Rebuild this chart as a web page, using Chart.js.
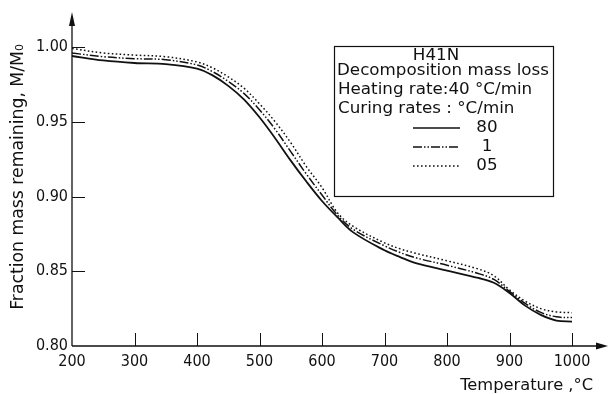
<!DOCTYPE html>
<html>
<head>
<meta charset="utf-8">
<script src="https://cdn.jsdelivr.net/npm/chart.js@4.4.1/dist/chart.umd.min.js"></script>
<style>
  html, body { margin: 0; padding: 0; background: #fff; }
  canvas { display: block; }
</style>
</head>
<body>
<canvas id="canvas" width="608" height="394"></canvas>
<script>
"use strict";

// Temperatures (°C) shared by all three curves
const temps = [200, 250, 300, 350, 400, 425, 450, 475, 500, 525, 550, 575, 600, 625, 650, 700, 725, 750, 800, 850, 875, 900, 925, 950, 975, 1000];

// Fraction mass remaining, per curing rate
const rate80 = [0.994, 0.991, 0.9893, 0.9885, 0.9855, 0.981, 0.974, 0.965, 0.953, 0.939, 0.924, 0.910, 0.897, 0.886, 0.876, 0.864, 0.8595, 0.8555, 0.8505, 0.8455, 0.8423, 0.8355, 0.827, 0.8208, 0.817, 0.8163];
const rate1 = [0.996, 0.9935, 0.9922, 0.9915, 0.988, 0.9835, 0.977, 0.969, 0.958, 0.945, 0.930, 0.915, 0.901, 0.8875, 0.878, 0.867, 0.8625, 0.859, 0.854, 0.8485, 0.8445, 0.8365, 0.8285, 0.8225, 0.8195, 0.819];
const rate05 = [0.999, 0.996, 0.9946, 0.9935, 0.990, 0.986, 0.980, 0.9725, 0.962, 0.950, 0.936, 0.920, 0.906, 0.889, 0.880, 0.869, 0.865, 0.862, 0.857, 0.8515, 0.847, 0.8375, 0.830, 0.825, 0.8228, 0.8223];

const seriesLabels = ["80", "1", "05"];
const xTicks = [200, 300, 400, 500, 600, 700, 800, 900, 1000];
const yTicks = [0.80, 0.85, 0.90, 0.95, 1.00];
const headerLines = ["H41N", "Decomposition mass loss", "Heating rate:40 °C/min", "Curing rates : °C/min"];
const xTitle = "Temperature ,°C";
const yTitle = "Fraction mass remaining, M/M₀";

const TICK_FONT = "'DejaVu Sans Condensed', 'DejaVu Sans', sans-serif";
const TEXT_FONT = "'DejaVu Sans', sans-serif";
const dashStyles = [[], [9, 2, 1.5, 2, 1.5, 2], [1.6, 2.4]];

function toPoints(values) {
  return temps.map((t, i) => ({ x: t, y: values[i] }));
}

// font size that makes text span the given width
function fitSize(ctx, text, width) {
  ctx.font = "100px " + TEXT_FONT;
  return 100 * width / ctx.measureText(text).width;
}

// axes with arrows, inward ticks, titles and the boxed legend
const paperFrame = {
  id: "paperFrame",
  afterDraw(chart) {
    const ctx = chart.ctx;
    const xs = chart.scales.x;
    const ys = chart.scales.y;
    const x0 = xs.getPixelForValue(200);
    const y0 = ys.getPixelForValue(0.80);

    ctx.save();
    ctx.strokeStyle = "#111";
    ctx.fillStyle = "#111";
    ctx.lineWidth = 1.3;

    // axis lines
    ctx.beginPath();
    ctx.moveTo(x0, y0);
    ctx.lineTo(x0, 18);
    ctx.moveTo(x0, y0);
    ctx.lineTo(600, y0);
    ctx.stroke();

    // arrow heads
    ctx.beginPath();
    ctx.moveTo(x0, 12);
    ctx.lineTo(x0 - 3, 26);
    ctx.lineTo(x0 + 3, 26);
    ctx.closePath();
    ctx.fill();
    ctx.beginPath();
    ctx.moveTo(608, y0);
    ctx.lineTo(596, y0 - 3.5);
    ctx.lineTo(596, y0 + 3.5);
    ctx.closePath();
    ctx.fill();

    // inward tick marks
    ctx.lineWidth = 1;
    ctx.beginPath();
    xTicks.slice(1).forEach(v => {
      const px = Math.round(xs.getPixelForValue(v)) + 0.5;
      ctx.moveTo(px, y0);
      ctx.lineTo(px, y0 - 13);
    });
    yTicks.slice(1).forEach(v => {
      const py = Math.round(ys.getPixelForValue(v)) + 0.5;
      ctx.moveTo(x0, py);
      ctx.lineTo(x0 + 13, py);
    });
    ctx.stroke();

    // axis titles
    ctx.textBaseline = "middle";
    const xtSize = fitSize(ctx, xTitle, 133);
    ctx.font = xtSize + "px " + TEXT_FONT;
    ctx.textAlign = "right";
    ctx.fillText(xTitle, 593, 386);

    const ytSize = fitSize(ctx, yTitle, 266);
    ctx.font = ytSize + "px " + TEXT_FONT;
    ctx.save();
    ctx.translate(19, 177);
    ctx.rotate(-Math.PI / 2);
    ctx.textAlign = "center";
    ctx.fillText(yTitle, 0, 0);
    ctx.restore();

    // legend box
    ctx.lineWidth = 1.2;
    ctx.strokeRect(334.5, 46.5, 219, 150);
    const lgSize = fitSize(ctx, headerLines[1], 212);
    ctx.font = lgSize + "px " + TEXT_FONT;
    ctx.textAlign = "center";
    ctx.fillText(headerLines[0], 436, 56);
    ctx.textAlign = "left";
    ctx.fillText(headerLines[1], 337, 71);
    ctx.fillText(headerLines[2], 338, 90);
    ctx.fillText(headerLines[3], 338, 109);

    chart.data.datasets.forEach((ds, i) => {
      const ly = 128 + i * 19;
      ctx.save();
      ctx.lineWidth = 1.5;
      ctx.setLineDash(ds.borderDash);
      ctx.beginPath();
      ctx.moveTo(413, ly);
      ctx.lineTo(460, ly);
      ctx.stroke();
      ctx.restore();
      ctx.textAlign = "center";
      ctx.fillText(ds.label, 487, ly);
    });

    ctx.restore();
  }
};

const ctx = document.getElementById("canvas").getContext("2d");

new Chart(ctx, {
  type: "line",
  data: {
    datasets: [rate80, rate1, rate05].map((vals, i) => ({
      label: seriesLabels[i],
      data: toPoints(vals),
      borderColor: "#111",
      borderWidth: i === 0 ? 1.8 : 1.5,
      borderDash: dashStyles[i],
      pointRadius: 0,
      fill: false,
      tension: 0.35
    }))
  },
  options: {
    responsive: false,
    animation: false,
    devicePixelRatio: 1,
    layout: { padding: { top: 47, right: 36, left: 0, bottom: 0 } },
    plugins: {
      legend: { display: false },
      tooltip: { enabled: false }
    },
    scales: {
      x: {
        type: "linear",
        min: 200,
        max: 1000,
        afterBuildTicks: scale => { scale.ticks = xTicks.map(v => ({ value: v })); },
        afterFit: scale => { scale.height = 48; },
        grid: { display: false, drawTicks: false },
        border: { display: false },
        ticks: {
          color: "#111",
          padding: 6,
          maxRotation: 0,
          font: { family: TICK_FONT, size: 16 },
          callback: v => String(v)
        }
      },
      y: {
        type: "linear",
        min: 0.80,
        max: 1.00,
        afterBuildTicks: scale => { scale.ticks = yTicks.map(v => ({ value: v })); },
        afterFit: scale => { scale.width = 72; },
        grid: { display: false, drawTicks: false },
        border: { display: false },
        ticks: {
          color: "#111",
          padding: 4,
          font: { family: TICK_FONT, size: 16 },
          callback: v => v.toFixed(2)
        }
      }
    }
  },
  plugins: [paperFrame]
});
</script>
</body>
</html>
